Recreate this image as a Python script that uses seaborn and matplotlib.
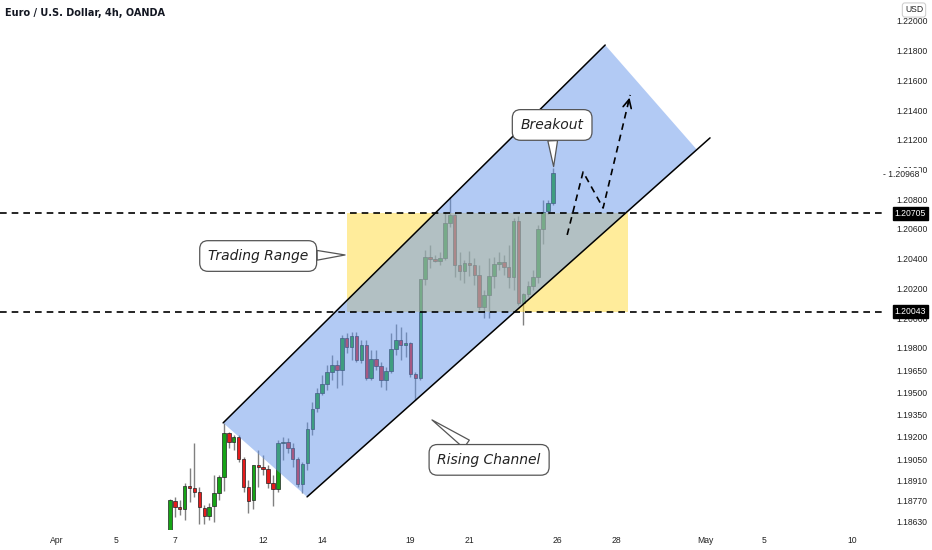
import matplotlib
matplotlib.use("Agg")
import matplotlib.pyplot as plt
from matplotlib import font_manager
from matplotlib.patches import Polygon, Rectangle
import numpy as np
import pandas as pd
import seaborn as sns

# EUR/USD 4h candles, Apr 6 20:00 -> Apr 23 20:00
opens = [1.18574, 1.18770, 1.18729, 1.18716, 1.18871, 1.18857, 1.18830, 1.18722, 1.18669, 1.18736,
         1.18823, 1.18931, 1.19227, 1.19167, 1.19200, 1.19052, 1.18864, 1.18776, 1.19012, 1.18998,
         1.18985, 1.18891, 1.18850, 1.19160, 1.19167, 1.19126, 1.19052, 1.18884, 1.19025, 1.19254,
         1.19395, 1.19496, 1.19557, 1.19638, 1.19685, 1.19651, 1.19867, 1.19806, 1.19880, 1.19719,
         1.19819, 1.19597, 1.19725, 1.19678, 1.19584, 1.19644, 1.19793, 1.19853, 1.19819, 1.19833,
         1.19624, 1.19597, 1.20264, 1.20412, 1.20398, 1.20385, 1.20405, 1.20641, 1.20694, 1.20358,
         1.20318, 1.20371, 1.20358, 1.20291, 1.20075, 1.20156, 1.20284, 1.20365, 1.20378, 1.20344,
         1.20277, 1.20654, 1.20102, 1.20163, 1.20217, 1.20277, 1.20600, 1.20721, 1.20775]
closes = [1.18776, 1.18729, 1.18716, 1.18871, 1.18857, 1.18830, 1.18729, 1.18669, 1.18729, 1.18823,
          1.18931, 1.19227, 1.19167, 1.19200, 1.19052, 1.18864, 1.18770, 1.19012, 1.18998, 1.18985,
          1.18891, 1.18850, 1.19160, 1.19167, 1.19126, 1.19052, 1.18884, 1.19019, 1.19254, 1.19389,
          1.19496, 1.19557, 1.19638, 1.19685, 1.19651, 1.19867, 1.19806, 1.19880, 1.19719, 1.19819,
          1.19597, 1.19725, 1.19678, 1.19584, 1.19644, 1.19793, 1.19853, 1.19819, 1.19833, 1.19624,
          1.19597, 1.20264, 1.20412, 1.20398, 1.20385, 1.20405, 1.20641, 1.20694, 1.20358, 1.20318,
          1.20371, 1.20358, 1.20291, 1.20075, 1.20156, 1.20284, 1.20365, 1.20378, 1.20344, 1.20277,
          1.20654, 1.20102, 1.20163, 1.20217, 1.20277, 1.20600, 1.20715, 1.20775, 1.20977]
highs = [1.18783, 1.18797, 1.18776, 1.18891, 1.18992, 1.19160, 1.18864, 1.18743, 1.18756, 1.18945,
         1.18945, 1.19295, 1.19234, 1.19214, 1.19214, 1.19066, 1.18911, 1.19012, 1.19113, 1.19079,
         1.19012, 1.18945, 1.19180, 1.19200, 1.19194, 1.19160, 1.19066, 1.19032, 1.19301, 1.19436,
         1.19530, 1.19618, 1.19685, 1.19752, 1.19719, 1.19887, 1.19900, 1.19907, 1.19907, 1.19853,
         1.19853, 1.19786, 1.19786, 1.19705, 1.19671, 1.19900, 1.19961, 1.19941, 1.19907, 1.19840,
         1.19638, 1.20264, 1.20459, 1.20492, 1.20425, 1.20445, 1.20715, 1.20816, 1.20708, 1.20445,
         1.20392, 1.20452, 1.20405, 1.20358, 1.20190, 1.20405, 1.20412, 1.20445, 1.20425, 1.20492,
         1.20674, 1.20688, 1.20169, 1.20250, 1.20324, 1.20627, 1.20795, 1.20795, 1.21011]
lows = [1.18568, 1.18662, 1.18675, 1.18642, 1.18763, 1.18797, 1.18615, 1.18615, 1.18642, 1.18628,
        1.18776, 1.18837, 1.19126, 1.19113, 1.19032, 1.18830, 1.18689, 1.18716, 1.18864, 1.18945,
        1.18857, 1.18736, 1.18830, 1.19046, 1.19093, 1.18998, 1.18864, 1.18823, 1.18978, 1.19214,
        1.19369, 1.19483, 1.19517, 1.19584, 1.19530, 1.19550, 1.19766, 1.19719, 1.19705, 1.19698,
        1.19584, 1.19584, 1.19651, 1.19537, 1.19517, 1.19631, 1.19752, 1.19719, 1.19739, 1.19604,
        1.19449, 1.19584, 1.20223, 1.20338, 1.20378, 1.20358, 1.20392, 1.20614, 1.20277, 1.20257,
        1.20237, 1.20284, 1.20223, 1.20055, 1.20001, 1.20001, 1.20203, 1.20324, 1.20291, 1.20203,
        1.20190, 1.20089, 1.19954, 1.20143, 1.20190, 1.20237, 1.20499, 1.20701, 1.20762]

# x axis counts trading days from Apr 1, six 4h bars per day
start_day = 3 + 5 / 6
bar_step = 1 / 6
tick_days = [0, 2, 4, 7, 9, 12, 14, 17, 19, 22, 24, 27]
tick_labels = ['Apr', '5', '7', '12', '14', '19', '21', '26', '28', 'May', '5', '10']

price_ticks = [1.22, 1.218, 1.216, 1.214, 1.212, 1.21, 1.208, 1.206, 1.204, 1.202, 1.20,
               1.198, 1.1965, 1.195, 1.1935, 1.192, 1.1905, 1.1891, 1.1877, 1.1863]
range_top = 1.20705
range_bottom = 1.20043
last_price = 1.20968

# drawings (day, price)
channel_fill = [(5.64, 1.19295), (18.61, 1.21838), (21.73, 1.21132), (8.49, 1.18797)]
channel_upper = [(5.64, 1.19295), (18.61, 1.21838)]
channel_lower = [(8.49, 1.18797), (22.17, 1.21213)]
range_days = (9.85, 19.39)
projection = [(17.32, 1.20560), (17.86, 1.20984), (18.54, 1.20741), (19.46, 1.21502)]

df = pd.DataFrame({'open': opens, 'high': highs, 'low': lows, 'close': closes})
df['day'] = start_day + np.arange(len(df)) * bar_step
df['up'] = df['close'] >= df['open']

sns.set_theme(style="white")
plt.rcParams['font.family'] = ['DejaVu Sans']

installed = {f.name for f in font_manager.fontManager.ttflist}
axis_font = 'Liberation Sans Narrow' if 'Liberation Sans Narrow' in installed else 'Liberation Sans'
axis_size = 7 if axis_font == 'Liberation Sans Narrow' else 6.2

fig = plt.figure(figsize=(9.32, 5.5), dpi=100)
ax = fig.add_axes([0, 20 / 550, 885 / 932, 530 / 550])

green = '#16a516'
red = '#e51c1c'
ax.vlines(df['day'], df['low'], df['high'], color='#808080', lw=1, zorder=1)
body = (df['close'] - df['open']).where(lambda s: s.abs() > 0.00002, 0.00002)
ax.bar(df['day'], body, bottom=df['open'], width=0.12,
       color=np.where(df['up'], green, red), edgecolor='#222222', linewidth=0.5, zorder=2)

# trading range box + channel
ax.add_patch(Rectangle((range_days[0], range_bottom), range_days[1] - range_days[0],
                       range_top - range_bottom, fc=(1.0, 0.86, 0.22), alpha=0.5, lw=0, zorder=3))
ax.add_patch(Polygon(channel_fill, closed=True, fc=(0.40, 0.59, 0.92), alpha=0.5, lw=0, zorder=4))
for seg in (channel_upper, channel_lower):
    xs, ys = zip(*seg)
    ax.plot(xs, ys, color='black', lw=1.1, zorder=6)

for lvl in (range_top, range_bottom):
    ax.axhline(lvl, color='black', ls=(0, (4, 3)), lw=1.2, zorder=6)

# projected path
px, py = zip(*projection)
ax.plot(px, py, color='black', ls=(0, (4, 3)), lw=1.2, zorder=6)
tip_from = (px[-2] + 0.9 * (px[-1] - px[-2]), py[-2] + 0.9 * (py[-1] - py[-2]))
ax.annotate('', xy=projection[-1], xytext=tip_from,
            arrowprops=dict(arrowstyle='->,head_length=0.5,head_width=0.25', color='black', lw=1.2),
            zorder=7)

# callouts
def callout(text, tip, pos):
    ax.annotate(text, xy=tip, xytext=pos, ha='center', va='center', fontsize=10,
                style='italic', color='#222222', zorder=9,
                bbox=dict(boxstyle='round,pad=0.6', fc='white', ec='#555555', lw=0.9),
                arrowprops=dict(arrowstyle='wedge,tail_width=0.7', fc='white', ec='#555555',
                                lw=0.9, shrinkA=0, shrinkB=0))

callout('Breakout', (16.86, 1.21020), (16.81, 1.21300))
callout('Trading Range', (9.78, 1.20425), (6.83, 1.20418))
callout('Rising Channel', (12.73, 1.19315), (14.67, 1.19046))

ax.set_xlim(-1.935, 28.11)
ax.set_ylim(1.18574, 1.22141)
ax.set_xticks(tick_days)
ax.set_xticklabels(tick_labels)
ax.yaxis.tick_right()
ax.set_yticks(price_ticks)
ax.set_yticklabels([f'{v:.5f}' for v in price_ticks])
ax.tick_params(axis='y', length=0, pad=8, labelsize=axis_size, labelcolor='#222222')
ax.tick_params(axis='x', length=0, pad=4, labelsize=axis_size, labelcolor='#222222')
for lab in ax.get_yticklabels() + ax.get_xticklabels():
    lab.set_fontfamily([axis_font, 'DejaVu Sans'])
sns.despine(ax=ax, left=True, bottom=True, right=True, top=True)

ytr = ax.get_yaxis_transform()
ax.text(0.998, last_price, '- 1.20968', transform=ytr, fontsize=axis_size, va='center', ha='left',
        color='#222222', clip_on=False, zorder=10, family=[axis_font, 'DejaVu Sans'],
        bbox=dict(boxstyle='square,pad=0.2', fc='white', ec='none'))
for lvl in (range_top, range_bottom):
    ax.text(1.011, lvl, f'{lvl:.5f}', transform=ytr, fontsize=axis_size, va='center', ha='left',
            color='white', clip_on=False, zorder=10, family=[axis_font, 'DejaVu Sans'],
            bbox=dict(boxstyle='square,pad=0.25', fc='black', ec='black'))

fig.text(5 / 932, 1 - 13 / 550, 'Euro / U.S. Dollar, 4h, OANDA', fontsize=7,
         fontweight='semibold', va='center', color='#131722')
fig.text(914 / 932, 1 - 10 / 550, 'USD', fontsize=axis_size, ha='center', va='center',
         color='#222222', family=[axis_font, 'DejaVu Sans'],
         bbox=dict(boxstyle='round,pad=0.3', fc='white', ec='#d0d0d0', lw=0.8))

fig.savefig('out.png', dpi=100)
